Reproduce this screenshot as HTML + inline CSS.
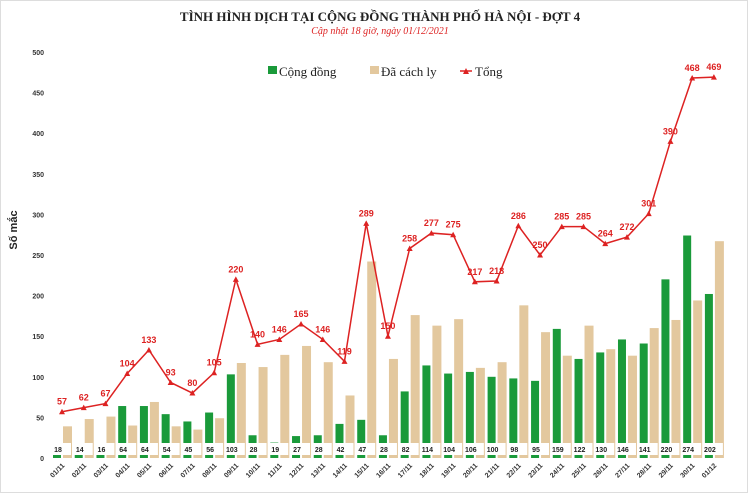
<!DOCTYPE html>
<html><head><meta charset="utf-8"><style>
body{margin:0;background:#fff;}
svg{display:block;font-family:"Liberation Sans",sans-serif;}
</style></head><body>
<svg id="c" width="748" height="493" viewBox="0 0 748 493">
<rect x="0.5" y="0.5" width="747" height="492" fill="#fff" stroke="#ddd"/>
<text x="380" y="21" text-anchor="middle" font-family="Liberation Serif,serif" font-weight="bold" font-size="13" fill="#222">TÌNH HÌNH DỊCH TẠI CỘNG ĐỒNG THÀNH PHỐ HÀ NỘI - ĐỢT 4</text>
<text x="380" y="34" text-anchor="middle" font-family="Liberation Serif,serif" font-style="italic" font-size="10" fill="#d22">Cập nhật 18 giờ, ngày 01/12/2021</text>
<text transform="translate(17,230) rotate(-90)" text-anchor="middle" font-weight="bold" font-size="11" fill="#222">Số mắc</text>
<g>
<rect x="268" y="66" width="9" height="8" fill="#1a9a3a"/>
<text x="279" y="76" font-family="Liberation Serif,serif" font-size="13" fill="#222">Cộng đồng</text>
<rect x="370" y="66" width="9" height="8" fill="#e3c89e"/>
<text x="381" y="76" font-family="Liberation Serif,serif" font-size="13" fill="#222">Đã cách ly</text>
<line x1="460" y1="71" x2="472" y2="71" stroke="#d22" stroke-width="1.5"/>
<path d="M463,74 L466,68 L469,74Z" fill="#d22"/>
<text x="475" y="76" font-family="Liberation Serif,serif" font-size="13" fill="#222">Tổng</text>
</g>
<g id="g"></g>
</svg>
<script>
const categories=["01/11","02/11","03/11","04/11","05/11","06/11","07/11","08/11","09/11","10/11","11/11","12/11","13/11","14/11","15/11","16/11","17/11","18/11","19/11","20/11","21/11","22/11","23/11","24/11","25/11","26/11","27/11","28/11","29/11","30/11","01/12"];
const congDong=[18,14,16,64,64,54,45,56,103,28,19,27,28,42,47,28,82,114,104,106,100,98,95,159,122,130,146,141,220,274,202];
const tong=[57,62,67,104,133,93,80,105,220,140,146,165,146,119,289,150,258,277,275,217,218,286,250,285,285,264,272,301,390,468,469];
const daCachLy=[39,48,51,40,69,39,35,49,117,112,127,138,118,77,242,122,176,163,171,111,118,188,155,126,163,134,126,160,170,194,267];
const yTicks=[0,50,100,150,200,250,300,350,400,450,500];
const NS="http://www.w3.org/2000/svg";
const g=document.getElementById('g');
const y=v=>458-v*0.812;
const x=i=>62+i*21.73;
function mk(t,a){const e=document.createElementNS(NS,t);for(const k in a)e.setAttribute(k,a[k]);g.appendChild(e);return e;}
yTicks.forEach(v=>{const t=mk('text',{x:44,y:y(v)+3,'text-anchor':'end','font-size':'7','font-weight':'bold',fill:'#333'});t.textContent=v;

});
categories.forEach((c,i)=>{
const b=mk('rect',{x:x(i)-9,y:y(congDong[i]),width:8,height:458-y(congDong[i]),fill:'#1a9a3a'});


const b2=mk('rect',{x:x(i)+1,y:y(daCachLy[i]),width:9,height:458-y(daCachLy[i]),fill:'#e3c89e'});


mk('rect',{x:x(i)-11,y:443,width:20,height:12,fill:'#fff'});
const l=mk('text',{x:x(i)-4,y:452,'text-anchor':'middle','font-size':'7','font-weight':'bold',fill:'#222'});l.textContent=congDong[i];


const xl=mk('text',{transform:`translate(${x(i)+3},466) rotate(-45)`,'text-anchor':'end','font-size':'7','font-weight':'bold',fill:'#333'});xl.textContent=c;


});
const ln=mk('polyline',{points:tong.map((v,i)=>x(i)+','+y(v)).join(' '),fill:'none',stroke:'#d22','stroke-width':1.5});


tong.forEach((v,i)=>{
const m=mk('path',{d:`M${x(i)-3},${y(v)+2.5} L${x(i)},${y(v)-3} L${x(i)+3},${y(v)+2.5}Z`,fill:'#d22'});


const t=mk('text',{x:x(i),y:y(v)-7,'text-anchor':'middle','font-size':'9','font-weight':'bold',fill:'#d22'});t.textContent=v;


});
</script>
</body></html>
